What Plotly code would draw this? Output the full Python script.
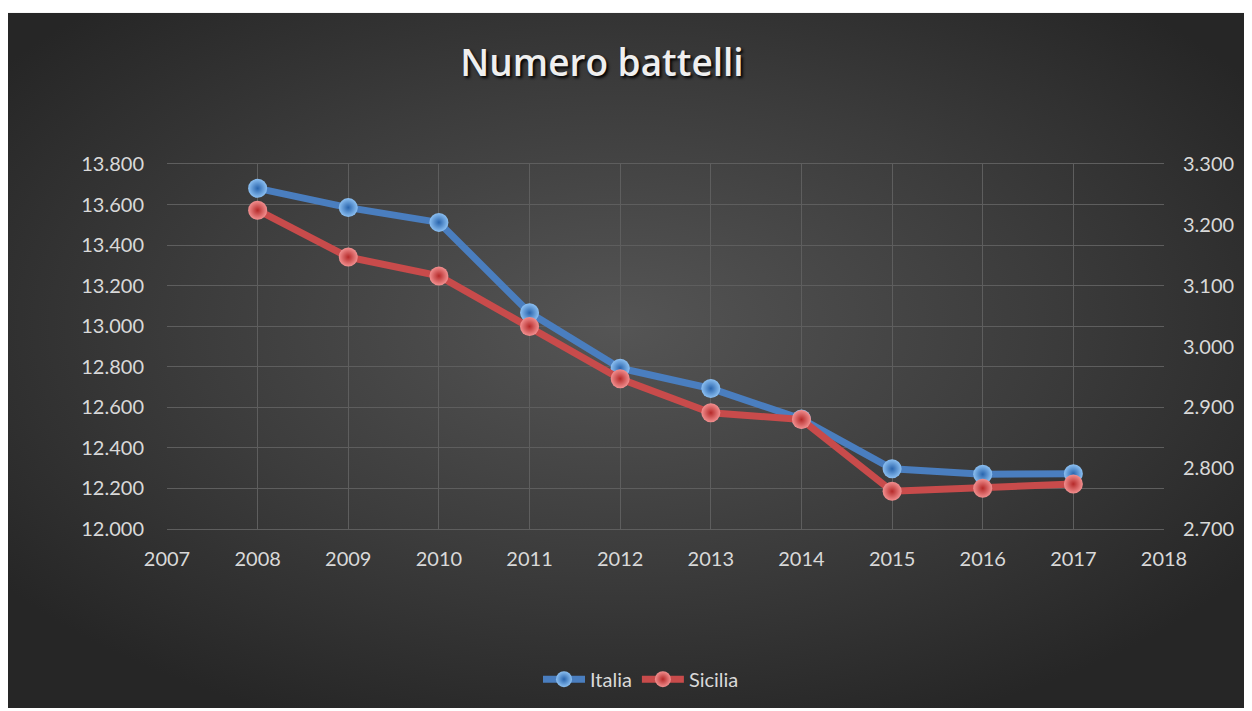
import base64
import plotly.graph_objects as go

years = [2008, 2009, 2010, 2011, 2012, 2013, 2014, 2015, 2016, 2017]
italia = [13680, 13585, 13512, 13066, 12793, 12693, 12543, 12297, 12270, 12272]
sicilia = [3224, 3147, 3116, 3033, 2947, 2891, 2880, 2762, 2767, 2774]

left_ticks = [12000, 12200, 12400, 12600, 12800, 13000, 13200, 13400, 13600, 13800]
right_ticks = [2700, 2800, 2900, 3000, 3100, 3200, 3300]
x_ticks = list(range(2007, 2019))

# page has an 8px body margin; figure coordinates = page - 8
W, H = 1244, 703
L, R, T, B = 159, 1156, 156, 523
pw, ph = R - L, B - T

svg = (
    "<svg xmlns='http://www.w3.org/2000/svg' width='1244' height='699' "
    "viewBox='0 0 1244 699' preserveAspectRatio='none'>"
    "<defs><radialGradient id='g' cx='0.49' cy='0.45' r='0.62'>"
    "<stop offset='0' stop-color='#555555'/>"
    "<stop offset='0.55' stop-color='#3c3c3c'/>"
    "<stop offset='1' stop-color='#262626'/>"
    "</radialGradient></defs>"
    "<rect x='0' y='0' width='1244' height='699' fill='url(#g)'/></svg>"
)
src = "data:image/svg+xml;base64," + base64.b64encode(svg.encode()).decode()

bx0 = 0
by0 = 4

fig = go.Figure()
fig.add_trace(go.Scatter(
    x=years, y=italia, name="Italia", mode="lines+markers",
    line=dict(color="#4a7ebf", width=7),
    marker=dict(size=19, color="#8cc0f2",
                gradient=dict(type="radial", color="#2a65ad"),
                line=dict(width=0)),
    yaxis="y",
))
fig.add_trace(go.Scatter(
    x=years, y=sicilia, name="Sicilia", mode="lines+markers",
    line=dict(color="#c84b4b", width=7),
    marker=dict(size=19, color="#f29090",
                gradient=dict(type="radial", color="#b52a2a"),
                line=dict(width=0)),
    yaxis="y2",
))

tick_font = dict(family="Lato, 'Open Sans', sans-serif", size=20, color="#d9d9d9")
grid_col = "#5e5e5e"

fig.update_layout(
    width=W, height=H,
    margin=dict(l=L, r=W - R, t=T, b=H - B, pad=0),
    paper_bgcolor="white",
    plot_bgcolor="rgba(0,0,0,0)",
    separators=",.",
    showlegend=True,
    title=dict(
        text="Numero battelli",
        x=594 / W, xref="container", xanchor="center",
        y=1 - 55 / H, yref="container", yanchor="middle",
        font=dict(family="'Open Sans', Lato, sans-serif", size=37, color="#efefef",
                  weight=600, shadow="2px 2px 3px #000000"),
    ),
    xaxis=dict(
        range=[2007, 2018], tickmode="array", tickvals=x_ticks,
        ticktext=[str(v) for v in x_ticks],
        showgrid=True, gridcolor=grid_col, gridwidth=1,
        zeroline=False, showline=True, linecolor=grid_col, linewidth=1,
        mirror=True, ticks="", tickfont=tick_font, ticklabelstandoff=12,
        fixedrange=True,
    ),
    yaxis=dict(
        range=[12000, 13800], tickmode="array", tickvals=left_ticks,
        tickformat=",d", showgrid=True, gridcolor=grid_col, gridwidth=1,
        zeroline=False, showline=False, ticks="", tickfont=tick_font,
        ticklabelstandoff=22,
    ),
    yaxis2=dict(
        range=[2700, 3300], tickmode="array", tickvals=right_ticks,
        tickformat=",d", overlaying="y", side="right", showgrid=False,
        zeroline=False, showline=False, ticks="", tickfont=tick_font,
        ticklabelstandoff=18,
    ),
    legend=dict(
        orientation="h", x=(633 - L) / pw, xanchor="center",
        y=(B - 674) / ph, yanchor="middle",
        font=dict(family="Lato, 'Open Sans', sans-serif", size=20, color="#d9d9d9"),
        bgcolor="rgba(0,0,0,0)", itemwidth=42, tracegroupgap=0,
    ),
    images=[dict(
        source=src, xref="paper", yref="paper",
        x=(bx0 - L) / pw, y=(B - by0) / ph,
        sizex=(W - bx0) / pw, sizey=(H - by0) / ph,
        xanchor="left", yanchor="top", sizing="stretch", layer="below",
    )],
)

fig.write_html("out.html")
